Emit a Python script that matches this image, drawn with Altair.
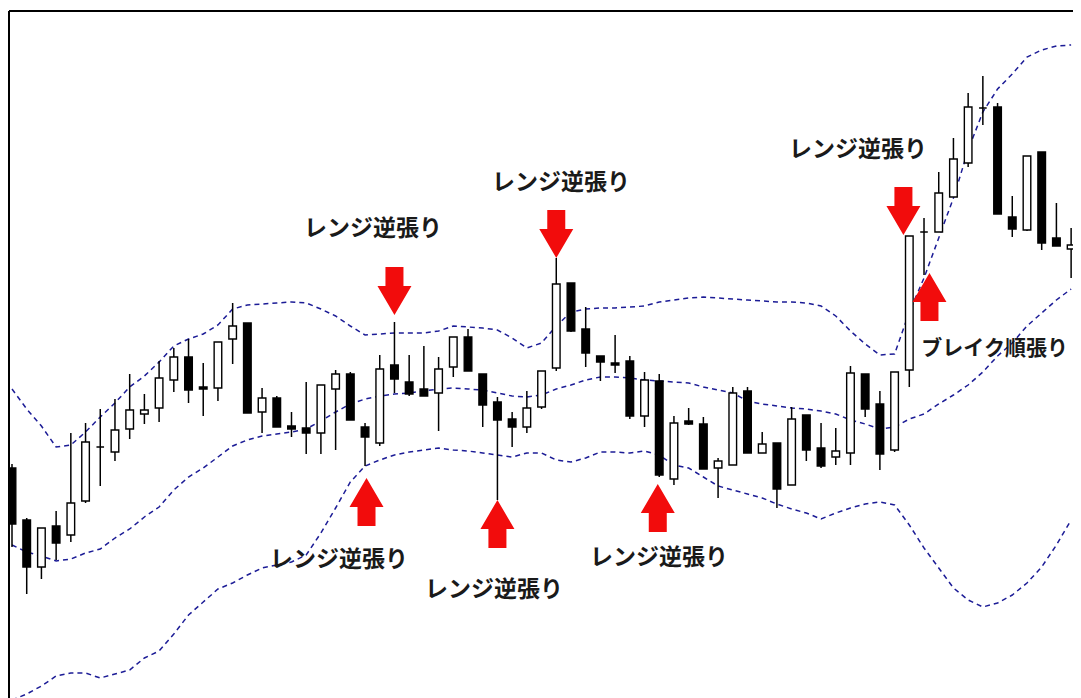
import altair as alt
import pandas as pd

# ---- candle data (price units) ----
open_ = [232,180,133,174,165,199,253,248,271,286,292,320,343,313,312,361,377,288,302,274,
         272,267,311,326,273,257,335,318,311,307,333,363,326,298,281,273,293,332,417,371,
         344,337,339,284,319,221,279,276,232,235,309,247,257,215,285,252,243,247,326,296,
         250,330,468,468,503,537,592,593,483,470,548,462,451]
high = [236,182,172,189,267,277,291,301,326,306,339,352,361,337,358,397,377,312,304,288,
        318,315,330,328,277,345,378,345,354,343,363,371,326,303,288,309,329,442,417,393,
        344,365,344,328,326,284,292,283,242,313,313,268,257,293,285,277,272,334,326,309,
        328,464,482,528,562,607,624,597,504,544,548,497,472]
low = [153,106,121,140,158,197,214,239,261,276,278,308,297,284,299,336,287,267,273,263,
       246,246,250,280,234,254,307,304,304,269,323,329,273,200,253,267,291,329,368,333,
       319,327,281,273,223,215,275,231,202,235,247,247,192,215,239,232,235,235,283,230,
       248,313,425,468,503,533,575,486,463,469,450,454,422]
close = [176,133,172,157,197,258,253,270,290,290,322,343,310,311,358,374,287,302,273,271,
         267,315,326,280,263,331,321,306,304,331,363,329,295,280,273,292,329,416,369,347,
         338,335,284,320,225,277,276,231,239,307,247,256,211,281,250,234,249,327,291,246,
         328,464,468,507,541,593,592,486,471,544,457,454,455]

# ---- Bollinger bands ----
upper = [311,291,274,253,255,268,283,297,313,324,338,354,361,366,375,391,395,396,397,398,
         397,391,384,374,365,366,367,367,367,369,374,373,372,370,362,352,357,374,388,391,
         392,392,393,394,398,400,402,403,402,401,400,399,398,398,397,394,384,369,356,345,
         346,388,422,462,502,550,588,611,626,643,650,654,655]
middle = [155,148,144,139,141,147,151,162,171,183,193,210,223,232,243,254,260,264,266,268,
          271,279,288,296,301,304,306,307,309,311,312,311,310,307,304,303,305,311,315,320,
          323,323,322,320,319,318,317,313,310,307,299,296,294,292,291,289,286,280,276,271,
          273,281,286,296,305,315,328,344,357,374,387,400,411]
lower = [0,6,14,24,27,27,22,26,30,42,49,66,85,98,111,117,125,132,135,138,
         145,167,192,218,234,240,245,248,250,252,250,249,247,245,243,247,247,240,238,242,
         248,248,247,249,245,235,232,223,214,210,206,202,196,191,187,181,187,192,196,198,
         195,175,152,132,112,100,93,97,105,117,133,155,180]

# ---- annotations ----
arrow_i = [27, 38, 61.6, 25.1, 34, 44.9, 63.37]
arrow_p = [409, 466, 489, 198, 176, 192, 403]
arrow_dir = ["down", "down", "down", "up", "up", "up", "up"]

label_i = [25.54, 38.32, 58.51, 23.23, 33.77, 44.98]
label_p = [471, 517, 550, 140, 110, 142]
label_text = ["レンジ逆張り"] * 6

break_i = [67.8]
break_p = [351]
break_text = ["ブレイク順張り"]

n = len(open_)
idx = list(range(1, n + 1))
candles = pd.DataFrame({"i": idx, "open": open_, "high": high, "low": low, "close": close})
candles["dir"] = ["up" if c >= o else "down" for o, c in zip(open_, close)]

bands = pd.concat([
    pd.DataFrame({"i": idx, "v": upper, "band": "upper"}),
    pd.DataFrame({"i": idx, "v": middle, "band": "middle"}),
    pd.DataFrame({"i": idx, "v": lower, "band": "lower"}),
])
arrows = pd.DataFrame({"i": arrow_i, "p": arrow_p, "dir": arrow_dir})
labels = pd.DataFrame({"i": label_i, "p": label_p, "t": label_text})
blabel = pd.DataFrame({"i": break_i, "p": break_p, "t": break_text})

W, H = 1064, 687
xs = alt.Scale(domain=[0.796, 73.128], nice=False, zero=False, padding=0)
ys = alt.Scale(domain=[689 - H, 689], nice=False, zero=False, padding=0)

X = lambda: alt.X("i:Q", scale=xs, axis=None)

wicks = alt.Chart(candles).mark_rule(color="black", strokeWidth=1.5, clip=True).encode(
    x=X(), y=alt.Y("low:Q", scale=ys, axis=None), y2="high:Q")

bodies = alt.Chart(candles).mark_bar(size=7.6, stroke="black", strokeWidth=1.4, clip=True).encode(
    x=X(), y=alt.Y("open:Q", scale=ys, axis=None), y2="close:Q",
    fill=alt.Fill("dir:N", scale=alt.Scale(domain=["up", "down"], range=["white", "black"]), legend=None))

band_lines = alt.Chart(bands).mark_line(color="#1c1c96", strokeWidth=1.5, strokeDash=[5, 4], clip=True).encode(
    x=X(), y=alt.Y("v:Q", scale=ys, axis=None), detail="band:N")

down_path = "M-0.36,-0.96L0.36,-0.96L0.36,-0.2L0.68,-0.2L0,0.96L-0.68,-0.2L-0.36,-0.2Z"
up_path = "M-0.36,0.96L0.36,0.96L0.36,0.2L0.68,0.2L0,-0.96L-0.68,0.2L-0.36,0.2Z"

arrow_marks = alt.Chart(arrows).mark_point(filled=True, size=2500, color="#f20c0c", opacity=1, strokeWidth=0).encode(
    x=X(), y=alt.Y("p:Q", scale=ys, axis=None),
    shape=alt.Shape("dir:N", scale=alt.Scale(domain=["down", "up"], range=[down_path, up_path]), legend=None))

texts = alt.Chart(labels).mark_text(font="Noto Sans CJK JP", fontSize=23, fontWeight="bold",
                                    color="#1a1a1a", align="center", baseline="middle").encode(
    x=X(), y=alt.Y("p:Q", scale=ys, axis=None), text="t:N")

btext = alt.Chart(blabel).mark_text(font="Noto Sans CJK JP", fontSize=21, fontWeight="bold",
                                    color="#1a1a1a", align="center", baseline="middle").encode(
    x=X(), y=alt.Y("p:Q", scale=ys, axis=None), text="t:N")

frame_left = alt.Chart(candles).mark_rule(color="black", strokeWidth=2).encode(
    x=alt.value(0), y=alt.value(0), y2=alt.value(H))
frame_top = alt.Chart(candles).mark_rule(color="black", strokeWidth=2).encode(
    x=alt.value(0), x2=alt.value(W), y=alt.value(0))

chart = alt.layer(band_lines, wicks, bodies, arrow_marks, texts, btext, frame_left, frame_top).properties(
    width=W, height=H,
    padding={"left": 1, "top": 3, "right": 0, "bottom": 0},
    autosize=alt.AutoSizeParams(type="none"),
    background="white",
).configure_view(stroke=None)

chart.save("out.html", embed_options={"renderer": "svg", "actions": False})
